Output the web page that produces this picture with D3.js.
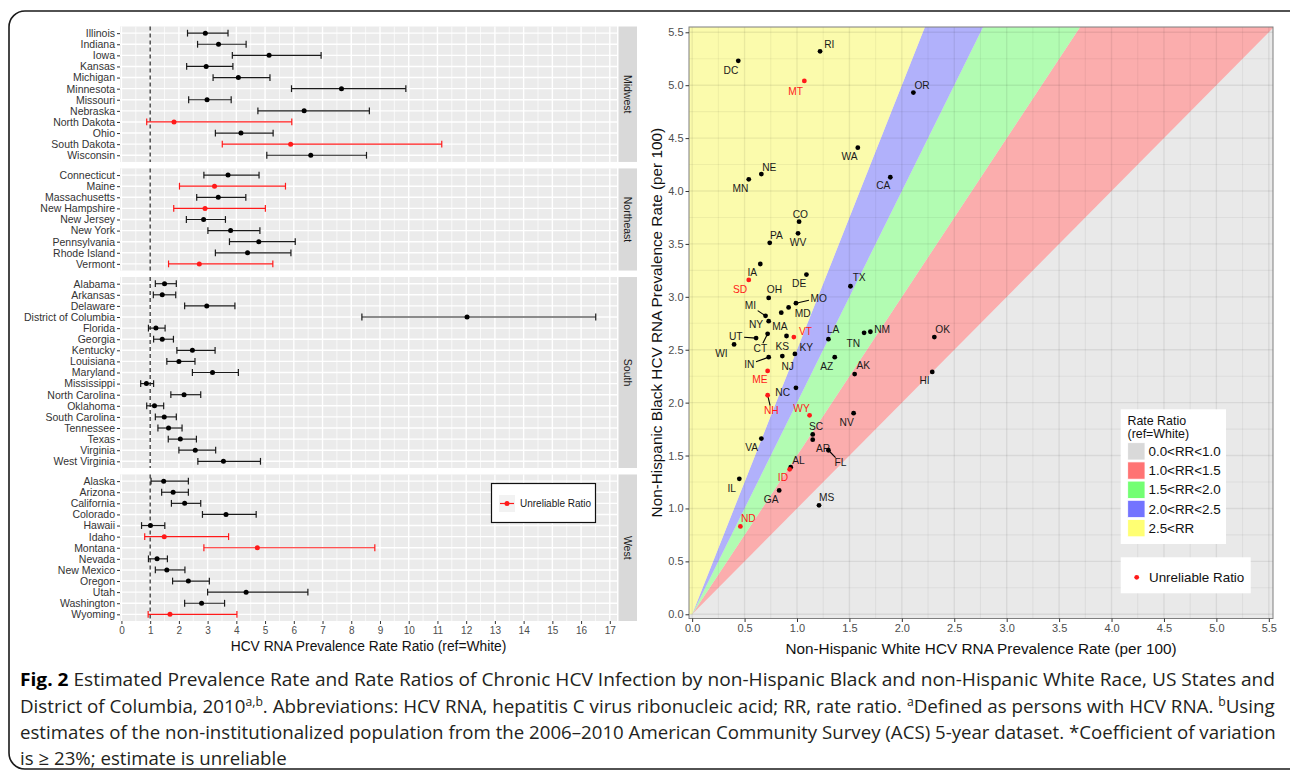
<!DOCTYPE html>
<html>
<head>
<meta charset="utf-8">
<script src="https://cdn.jsdelivr.net/npm/d3@7"></script>
<style>
body { margin: 0; background: #fff; }
svg { display: block; font-family: "Liberation Sans", Arial, sans-serif; }
</style>
</head>
<body>
<svg id="fig" width="1290" height="778"></svg>
<script>

// ---- data: left panel (rate ratio, 95% CI) ----
var regions = ["Midwest", "Northeast", "South", "West"];

var stateNames = ["Illinois","Indiana","Iowa","Kansas","Michigan","Minnesota","Missouri","Nebraska","North Dakota","Ohio","South Dakota","Wisconsin",
                  "Connecticut","Maine","Massachusetts","New Hampshire","New Jersey","New York","Pennsylvania","Rhode Island","Vermont",
                  "Alabama","Arkansas","Delaware","District of Columbia","Florida","Georgia","Kentucky","Louisiana","Maryland","Mississippi","North Carolina","Oklahoma","South Carolina","Tennessee","Texas","Virginia","West Virginia",
                  "Alaska","Arizona","California","Colorado","Hawaii","Idaho","Montana","Nevada","New Mexico","Oregon","Utah","Washington","Wyoming"];

var stateRegions = ["Midwest","Midwest","Midwest","Midwest","Midwest","Midwest","Midwest","Midwest","Midwest","Midwest","Midwest","Midwest",
                    "Northeast","Northeast","Northeast","Northeast","Northeast","Northeast","Northeast","Northeast","Northeast",
                    "South","South","South","South","South","South","South","South","South","South","South","South","South","South","South","South","South",
                    "West","West","West","West","West","West","West","West","West","West","West","West","West"];

var stateAbbr = ["IL","IN","IA","KS","MI","MN","MO","NE","ND","OH","SD","WI",
                 "CT","ME","MA","NH","NJ","NY","PA","RI","VT",
                 "AL","AR","DE","DC","FL","GA","KY","LA","MD","MS","NC","OK","SC","TN","TX","VA","WV",
                 "AK","AZ","CA","CO","HI","ID","MT","NV","NM","OR","UT","WA","WY"];

var rateRatio = [2.92,3.38,5.14,2.95,4.07,7.66,2.98,6.36,1.83,4.16,5.89,6.59,
                 3.71,3.24,3.37,2.91,2.86,3.80,4.78,4.39,2.71,
                 1.50,1.42,2.97,12.03,1.20,1.42,2.47,2.00,3.17,0.87,2.18,1.15,1.49,1.64,2.05,2.57,3.55,
                 1.47,1.80,2.20,3.64,1.01,1.49,4.73,1.24,1.58,2.33,4.34,2.79,1.69];

var ratioLow = [2.30,2.65,3.86,2.27,3.19,5.92,2.34,4.75,0.88,3.27,3.51,5.06,
                2.87,2.02,2.62,1.82,2.26,3.01,3.76,3.27,1.64,
                1.18,1.11,2.20,8.37,0.94,1.12,1.93,1.58,2.47,0.67,1.72,0.88,1.18,1.27,1.63,2.00,2.66,
                1.03,1.40,1.74,2.82,0.70,0.81,2.87,0.94,1.18,1.78,3.00,2.20,0.93];

var ratioHigh = [3.71,4.34,6.95,3.88,5.17,9.90,3.82,8.63,5.93,5.28,11.15,8.53,
                 4.79,5.71,4.33,5.01,3.62,4.82,6.05,5.90,5.27,
                 1.91,1.89,3.95,16.51,1.52,1.81,3.26,2.56,4.07,1.12,2.76,1.47,1.91,2.11,2.61,3.28,4.84,
                 2.33,2.33,2.76,4.69,1.51,3.73,8.82,1.60,2.21,3.06,6.49,3.59,4.02];

var unreliable = [0,0,0,0,0,0,0,0,1,0,1,0,
                  0,1,0,1,0,0,0,0,1,
                  0,0,0,0,0,0,0,0,0,0,0,0,0,0,0,0,0,
                  0,0,0,0,0,1,1,0,0,0,0,0,1];

// ---- data: right panel (prevalence per 100) ----
var whiteRate = [0.45,0.73,0.65,0.90,0.70,0.54,0.99,0.66,0.46,0.73,0.54,0.40,
                 0.72,0.72,0.85,0.72,0.86,0.73,0.74,1.22,0.97,
                 0.94,1.15,1.09,0.44,1.30,0.83,0.98,1.30,0.92,1.21,0.99,2.31,1.15,1.64,1.51,0.66,1.01,
                 1.55,1.36,1.89,1.02,2.29,0.93,1.07,1.54,1.70,2.11,0.61,1.58,1.12];

var blackRate = [1.28,2.43,3.31,2.63,2.82,4.11,2.94,4.16,0.83,2.99,3.16,2.55,
                 2.65,2.30,2.85,2.07,2.44,2.77,3.51,5.32,2.62,
                 1.39,1.65,3.21,5.23,1.55,1.17,2.46,2.60,2.90,1.03,2.14,2.62,1.70,2.66,3.10,1.66,3.60,
                 2.27,2.43,4.13,3.71,2.29,1.37,5.04,1.90,2.67,4.93,2.61,4.41,1.88];

var ratioBreaks = [0, 1.0, 1.5, 2.0, 2.5];
var ratioBandLabels = ["0.0<RR<1.0", "1.0<RR<1.5", "1.5<RR<2.0", "2.0<RR<2.5", "2.5<RR"];
var leftTicks = d3.range(0, 18);
var rightTicks = d3.range(0, 5.51, 0.5);

// ---- layout / style ----
var bandFill = ["#E9E9E9", "#FBADAD", "#B2FCB2", "#B1B1FB", "#FBFBAC"];
var bandKey  = ["#D9D9D9", "#FF7373", "#73FF73", "#7373FF", "#FFFF73"];
var RED = "#FF1A1A";

// label offsets (px) for the repelled state labels, and which ones get a leader line
var labelNudge = {
  DC:[-7.3,9.3], RI:[9.3,-7.3], MT:[-8.7,10.3], WA:[-8.3,9.3], NE:[8,-7], MN:[-8.3,8.7], CA:[-7,8.7],
  CO:[1.3,-7], OR:[8.7,-7], OK:[8.3,-7.3], HI:[-7.7,9], PA:[6.7,-7.7], WV:[0,9.3], IA:[-8,8.3],
  SD:[-8.7,10], DE:[-7.3,9], TX:[8.7,-8.3], OH:[5.7,-8], MO:[22.7,-5], MD:[14,5.7], MI:[-15,-10],
  NY:[-12.7,3.3], MA:[-1.3,13.7], VT:[11.7,-6], CT:[-7.3,14.3], KS:[-4.3,10.3], UT:[-20.3,-1.3],
  WI:[-12.7,9.3], IN:[-19.3,7], NJ:[5.3,10.3], KY:[11.3,-6], ME:[-7.7,8.3], NH:[3.7,15.3],
  NC:[-13.3,5], LA:[4.7,-9.7], TN:[-10.7,10.7], NM:[11.7,-2.3], AZ:[-8,9], AK:[8.7,-8.3],
  NV:[-7,9], WY:[-8,-6.7], SC:[3.3,-7.7], AR:[10.3,9], FL:[12,12.3], VA:[-9.7,9.3], AL:[7.7,-6.7],
  ID:[-6.7,8.3], IL:[-7.7,9.3], GA:[-8,9], MS:[7.7,-8], ND:[8,-7.7]
};
var labelLeader = ["MO","MI","CT","UT","IN","NH","FL"];

var svg = d3.select("#fig");
svg.append("rect").attr("width", 1290).attr("height", 778).attr("fill", "#fff");

// outer figure frame
svg.append("rect")
    .attr("x", 9).attr("y", 11).attr("width", 1320).attr("height", 758).attr("rx", 16)
    .attr("fill", "none").attr("stroke", "#1a1a1a").attr("stroke-width", 1.6);

// ================= LEFT: forest plot by region =================
var lx = d3.scaleLinear().domain([-0.05, 17.25]).range([120, 617]);
var pTop = 26.5, pBot = 621, pGap = 6.5;
var counts = regions.map(function(r){ return stateRegions.filter(function(s){ return s === r; }).length; });
var unit = (pBot - pTop - pGap*(regions.length-1)) / d3.sum(counts, function(n){ return n + 0.2; });

var left = svg.append("g");
var yCursor = pTop;

regions.forEach(function(region, ri){
    var idx = d3.range(stateNames.length).filter(function(i){ return stateRegions[i] === region; });
    var names = idx.map(function(i){ return stateNames[i]; });
    var h = (names.length + 0.2) * unit;
    var ys = d3.scalePoint().domain(names).range([yCursor, yCursor + h]).padding(0.6);

    var g = left.append("g");
    g.append("rect").attr("x", lx.range()[0]).attr("y", yCursor)
        .attr("width", lx.range()[1] - lx.range()[0]).attr("height", h).attr("fill", "#EBEBEB");

    // grid
    g.selectAll(".vmin").data(d3.range(0.5, 17.5, 1)).enter().append("line")
        .attr("x1", lx).attr("x2", lx).attr("y1", yCursor).attr("y2", yCursor + h)
        .attr("stroke", "#fff").attr("stroke-width", 0.7);
    g.selectAll(".vmaj").data(leftTicks).enter().append("line")
        .attr("x1", lx).attr("x2", lx).attr("y1", yCursor).attr("y2", yCursor + h)
        .attr("stroke", "#fff").attr("stroke-width", 1.4);
    g.selectAll(".hmaj").data(names).enter().append("line")
        .attr("x1", lx.range()[0]).attr("x2", lx.range()[1])
        .attr("y1", ys).attr("y2", ys)
        .attr("stroke", "#fff").attr("stroke-width", 1.4);

    // reference line at RR = 1
    g.append("line").attr("x1", lx(1)).attr("x2", lx(1)).attr("y1", yCursor).attr("y2", yCursor + h)
        .attr("stroke", "#333").attr("stroke-width", 1.3).attr("stroke-dasharray", "4,3");

    // error bars
    var bars = g.selectAll(".bar").data(idx).enter().append("g")
        .attr("stroke", function(i){ return unreliable[i] ? RED : "#1a1a1a"; })
        .attr("fill", function(i){ return unreliable[i] ? RED : "#000"; });
    bars.append("line")
        .attr("x1", function(i){ return lx(ratioLow[i]); }).attr("x2", function(i){ return lx(ratioHigh[i]); })
        .attr("y1", function(i){ return ys(stateNames[i]); }).attr("y2", function(i){ return ys(stateNames[i]); })
        .attr("stroke-width", 1.2);
    [ratioLow, ratioHigh].forEach(function(arr){
        bars.append("line")
            .attr("x1", function(i){ return lx(arr[i]); }).attr("x2", function(i){ return lx(arr[i]); })
            .attr("y1", function(i){ return ys(stateNames[i]) - 3.4; })
            .attr("y2", function(i){ return ys(stateNames[i]) + 3.4; })
            .attr("stroke-width", 1.2);
    });
    bars.append("circle")
        .attr("cx", function(i){ return lx(rateRatio[i]); }).attr("cy", function(i){ return ys(stateNames[i]); })
        .attr("r", 2.5).attr("stroke", "none");

    // y axis
    var ya = g.append("g").attr("transform", "translate(" + lx.range()[0] + ",0)")
        .call(d3.axisLeft(ys).tickSize(3).tickPadding(2));
    ya.select(".domain").remove();
    ya.selectAll("line").attr("stroke", "#333");
    ya.selectAll("text").attr("font-size", "10.5px").attr("fill", "#333")
        .attr("font-family", "Liberation Sans, Arial, sans-serif");

    // facet strip
    g.append("rect").attr("x", 618.5).attr("y", yCursor).attr("width", 18.5).attr("height", h).attr("fill", "#D9D9D9");
    g.append("text").attr("transform", "translate(627.7," + (yCursor + h/2) + ") rotate(90)")
        .attr("text-anchor", "middle").attr("dominant-baseline", "central")
        .attr("font-size", "10.5px").attr("fill", "#1a1a1a").text(region);

    // legend lives in the West panel
    if (region === "West") {
        var lg = g.append("g");
        lg.append("rect").attr("x", 491.5).attr("y", 483.5).attr("width", 104).attr("height", 39)
            .attr("fill", "#fff").attr("stroke", "#111").attr("stroke-width", 1.2);
        lg.append("rect").attr("x", 499).attr("y", 495).attr("width", 16).attr("height", 17).attr("fill", "#F2F2F2");
        lg.append("line").attr("x1", 500).attr("x2", 514).attr("y1", 503.5).attr("y2", 503.5)
            .attr("stroke", RED).attr("stroke-width", 1.2);
        lg.append("circle").attr("cx", 507).attr("cy", 503.5).attr("r", 2.5).attr("fill", RED);
        lg.append("text").attr("x", 520).attr("y", 503.5).attr("dominant-baseline", "central")
            .attr("font-size", "10px").attr("fill", "#1a1a1a").text("Unreliable Ratio");
    }

    yCursor += h + pGap;
});

var lxa = left.append("g").attr("transform", "translate(0," + pBot + ")")
    .call(d3.axisBottom(lx).tickValues(leftTicks).tickSize(3).tickPadding(3));
lxa.select(".domain").remove();
lxa.selectAll("line").attr("stroke", "#333");
lxa.selectAll("text").attr("font-size", "10px").attr("fill", "#4D4D4D")
    .attr("font-family", "Liberation Sans, Arial, sans-serif");

left.append("text").attr("x", 368.5).attr("y", 651).attr("text-anchor", "middle")
    .attr("font-size", "13.8px").attr("fill", "#111").text("HCV RNA Prevalence Rate Ratio (ref=White)");

// ================= RIGHT: scatter with rate-ratio bands =================
var rx = d3.scaleLinear().domain([-0.03, 5.54]).range([689, 1273]);
var ry = d3.scaleLinear().domain([-0.04, 5.55]).range([618.5, 27]);

var right = svg.append("g");
right.append("clipPath").attr("id", "rclip").append("rect")
    .attr("x", rx.range()[0]).attr("y", ry.range()[1])
    .attr("width", rx.range()[1] - rx.range()[0]).attr("height", ry.range()[0] - ry.range()[1]);

var plot = right.append("g").attr("clip-path", "url(#rclip)");
plot.append("rect").attr("x", rx.range()[0]).attr("y", ry.range()[1])
    .attr("width", rx.range()[1] - rx.range()[0]).attr("height", ry.range()[0] - ry.range()[1])
    .attr("fill", bandFill[0]);

// bands between y = k1*x and y = k2*x
var M = 10;
var bandLine = d3.line().x(function(d){ return rx(d[0]); }).y(function(d){ return ry(d[1]); });
ratioBreaks.forEach(function(k1, i){
    if (i === 0) return;
    var pts;
    if (i < ratioBreaks.length - 1) {
        var k2 = ratioBreaks[i + 1];
        pts = [[0, 0], [M, k1 * M], [M, k2 * M]];
    } else {
        pts = [[0, 0], [M, k1 * M], [-1, k1 * M], [-1, 0]];
    }
    plot.append("path").attr("d", bandLine(pts) + "Z").attr("fill", bandFill[i]);
});

// grid drawn over the bands
plot.selectAll(".gxm").data(d3.range(0.25, 5.6, 0.5)).enter().append("line")
    .attr("x1", rx).attr("x2", rx).attr("y1", ry.range()[0]).attr("y2", ry.range()[1])
    .attr("stroke", "#000").attr("stroke-opacity", 0.05).attr("stroke-width", 1.1);
plot.selectAll(".gym").data(d3.range(0.25, 5.6, 0.5)).enter().append("line")
    .attr("y1", ry).attr("y2", ry).attr("x1", rx.range()[0]).attr("x2", rx.range()[1])
    .attr("stroke", "#000").attr("stroke-opacity", 0.05).attr("stroke-width", 1.1);
plot.selectAll(".gx").data(rightTicks).enter().append("line")
    .attr("x1", rx).attr("x2", rx).attr("y1", ry.range()[0]).attr("y2", ry.range()[1])
    .attr("stroke", "#000").attr("stroke-opacity", 0.07).attr("stroke-width", 1.4);
plot.selectAll(".gy").data(rightTicks).enter().append("line")
    .attr("y1", ry).attr("y2", ry).attr("x1", rx.range()[0]).attr("x2", rx.range()[1])
    .attr("stroke", "#000").attr("stroke-opacity", 0.07).attr("stroke-width", 1.4);

// points, labels, leader lines
d3.range(stateAbbr.length).forEach(function(i){
    var ab = stateAbbr[i];
    var px = rx(whiteRate[i]), py = ry(blackRate[i]);
    var nd = labelNudge[ab];
    var lab = right.append("text").attr("x", px + nd[0]).attr("y", py + nd[1])
        .attr("text-anchor", "middle").attr("dominant-baseline", "central")
        .attr("font-size", "10.2px").attr("fill", unreliable[i] ? RED : "#1a1a1a").text(ab);
    if (labelLeader.indexOf(ab) >= 0) {
        var hw = lab.node().getComputedTextLength() / 2 + 1.5, hh = 5;
        var t = Math.min(hw / Math.abs(nd[0] || 1e-6), hh / Math.abs(nd[1] || 1e-6));
        right.append("line").attr("x1", px).attr("y1", py)
            .attr("x2", px + nd[0] * (1 - t)).attr("y2", py + nd[1] * (1 - t))
            .attr("stroke", "#000").attr("stroke-width", 1.1);
    }
    right.append("circle").attr("cx", px).attr("cy", py).attr("r", 2.4).attr("fill", unreliable[i] ? RED : "#000");
});

// panel border
right.append("rect").attr("x", rx.range()[0]).attr("y", ry.range()[1])
    .attr("width", rx.range()[1] - rx.range()[0]).attr("height", ry.range()[0] - ry.range()[1])
    .attr("fill", "none").attr("stroke", "#7F7F7F").attr("stroke-width", 1);

var rya = right.append("g").attr("transform", "translate(" + rx.range()[0] + ",0)")
    .call(d3.axisLeft(ry).tickValues(rightTicks).tickFormat(d3.format(".1f")).tickSize(3.5).tickPadding(2));
var rxa = right.append("g").attr("transform", "translate(0," + ry.range()[0] + ")")
    .call(d3.axisBottom(rx).tickValues(rightTicks).tickFormat(d3.format(".1f")).tickSize(3.5).tickPadding(2));
[rya, rxa].forEach(function(a){
    a.select(".domain").remove();
    a.selectAll("line").attr("stroke", "#333");
    a.selectAll("text").attr("font-size", "11px").attr("fill", "#4D4D4D")
        .attr("font-family", "Liberation Sans, Arial, sans-serif");
});

right.append("text").attr("x", 981).attr("y", 654).attr("text-anchor", "middle")
    .attr("font-size", "15.3px").attr("fill", "#111").text("Non-Hispanic White HCV RNA Prevalence Rate (per 100)");
right.append("text").attr("transform", "translate(662,322.7) rotate(-90)").attr("text-anchor", "middle")
    .attr("font-size", "15.3px").attr("fill", "#111").text("Non-Hispanic Black HCV RNA Prevalence Rate (per 100)");

// band legend
var bl = right.append("g");
bl.append("rect").attr("x", 1120.7).attr("y", 409.3).attr("width", 105.3).attr("height", 134.7).attr("fill", "#fff");
bl.append("text").attr("x", 1127.5).attr("y", 420.7).attr("dominant-baseline", "central")
    .attr("font-size", "12.4px").attr("fill", "#111").text("Rate Ratio");
bl.append("text").attr("x", 1127.5).attr("y", 433.5).attr("dominant-baseline", "central")
    .attr("font-size", "12.4px").attr("fill", "#111").text("(ref=White)");
var keys = bl.selectAll(".key").data(ratioBandLabels).enter().append("g")
    .attr("transform", function(d, i){ return "translate(1127.7," + (442.7 + i * 19.2) + ")"; });
keys.append("rect").attr("width", 17.3).attr("height", 17.3)
    .attr("fill", function(d, i){ return bandKey[i]; }).attr("stroke", "#fff").attr("stroke-width", 0.8);
keys.append("text").attr("x", 20.8).attr("y", 8.8).attr("dominant-baseline", "central")
    .attr("font-size", "13.4px").attr("fill", "#111").text(function(d){ return d; });

var ul = right.append("g");
ul.append("rect").attr("x", 1120.7).attr("y", 557.3).attr("width", 130).attr("height", 36).attr("fill", "#fff");
ul.append("circle").attr("cx", 1136.7).attr("cy", 577.3).attr("r", 2.4).attr("fill", RED);
ul.append("text").attr("x", 1149).attr("y", 577.3).attr("dominant-baseline", "central")
    .attr("font-size", "13.4px").attr("fill", "#111").text("Unreliable Ratio");

// ================= caption =================
var captionLines = [
    [{t: "Fig. 2", b: true}, {t: " Estimated Prevalence Rate and Rate Ratios of Chronic HCV Infection by non-Hispanic Black and non-Hispanic White Race, US States and"}],
    [{t: "District of Columbia, 2010"}, {t: "a,b", sup: true}, {t: ". Abbreviations: HCV RNA, hepatitis C virus ribonucleic acid; RR, rate ratio. "},
     {t: "a", sup: true}, {t: "Defined as persons with HCV RNA. "}, {t: "b", sup: true}, {t: "Using"}],
    [{t: "estimates of the non-institutionalized population from the 2006\u20132010 American Community Survey (ACS) 5-year dataset. *Coefficient of variation"}],
    [{t: "is \u2265 23%; estimate is unreliable"}]
];
var capX = 20, capW = 1256, capBase = [686, 713, 739, 765];
var lastScale = 1;
captionLines.forEach(function(parts, li){
    var tx = svg.append("text").attr("font-family", "'Open Sans', 'Noto Sans', sans-serif")
        .attr("font-size", "18.5px").attr("fill", "#231F20");
    parts.forEach(function(p, pi){
        var s = tx.append("tspan").text(p.t);
        if (p.b) s.attr("font-weight", "bold").attr("fill", "#000");
        if (p.sup) s.attr("font-size", "12px").attr("dy", -7);
        else if (pi > 0 && parts[pi - 1].sup) s.attr("dy", 7);
    });
    var w = tx.node().getComputedTextLength();
    var sc = (li < captionLines.length - 1) ? capW / w : lastScale;
    lastScale = sc;
    tx.attr("transform", "translate(" + capX + "," + capBase[li] + ") scale(" + sc + ",1)");
});

</script>
</body>
</html>
